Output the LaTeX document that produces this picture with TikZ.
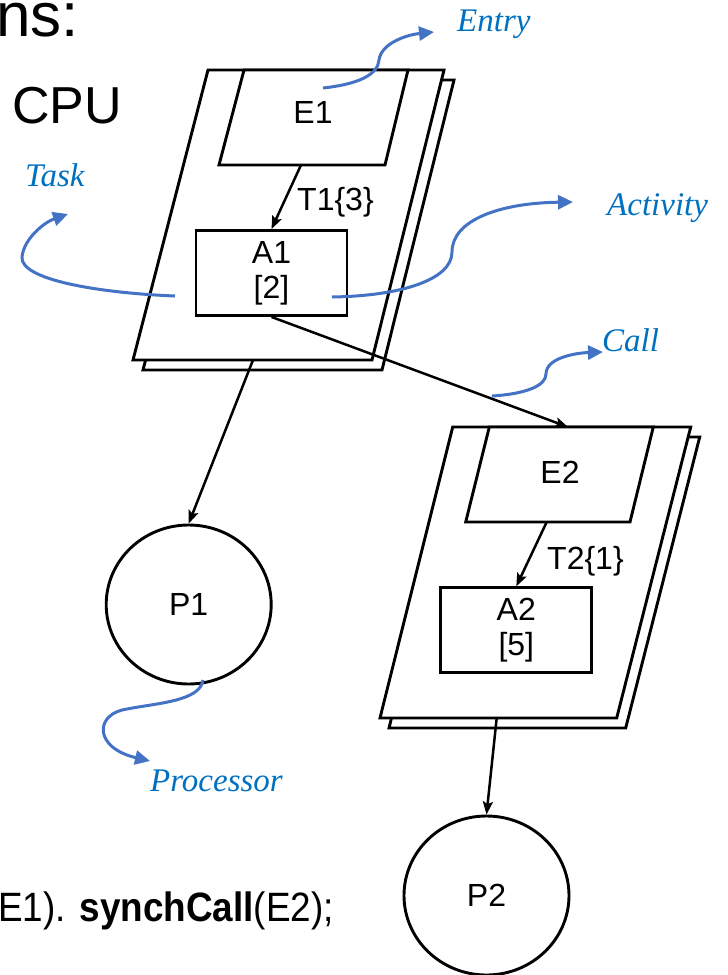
\documentclass[tikz,border=0pt]{standalone}
\usepackage{fontspec}
\setmainfont{Liberation Sans}
\newfontfamily\notefont{Liberation Serif}
\usetikzlibrary{arrows.meta,shapes.geometric}
\definecolor{noteblue}{RGB}{0,112,192}
\definecolor{curveblue}{RGB}{68,114,196}

\tikzset{
  outline/.style={line width=2.9pt, line join=miter, draw=black, fill=white},
  conn/.style={line width=2.5pt, -{Stealth[length=13pt,width=10pt,inset=2.5pt]}},
  note/.style={line width=3pt, draw=curveblue, -{Triangle[length=15pt,width=14pt]}},
  lbl/.style={font=\fontsize{33}{40}\selectfont\notefont\itshape, text=noteblue, anchor=base west, inner sep=0pt},
  txt/.style={font=\fontsize{32}{36}\selectfont, inner sep=0pt, align=center},
  actbox/.style={outline, rectangle, minimum width=151pt, minimum height=85pt, inner sep=0pt, font=\fontsize{32}{35}\selectfont, align=center},
  proc/.style={outline, ellipse, minimum width=165pt, minimum height=159pt, inner sep=0pt, font=\fontsize{32}{36}\selectfont}
}

\begin{document}
\begin{tikzpicture}[x=1pt,y=-1pt]
\useasboundingbox (0,0) rectangle (728,975);

% heading fragments
\node[anchor=base east, inner sep=0pt, font=\fontsize{62}{70}\selectfont] (head) at (79,36) {ns:};
\node[anchor=base west, inner sep=0pt, font=\fontsize{52}{60}\selectfont] (cpu) at (12,123) {CPU};
\node[anchor=base east, inner sep=0pt, font=\fontsize{41}{48}\selectfont] (code) at (334,921.7)
  {\scalebox{0.9}[1]{E1). \textbf{synchCall}(E2);}};

% task T1 (stacked sheets)
\draw[outline] (218,80) -- (454,80) -- (382,370) -- (143,370) -- cycle;
\draw[outline] (208,70) -- (444,70) -- (372,360) -- (133,360) -- cycle;
\draw[outline] (244,70) -- (408,70) -- (385,165) -- (219,165) -- cycle;
\node[txt] (e1) at (313,112) {E1};
\node[actbox] (a1) at (271.5,273) {A1\\{[2]}};

% task T2 (stacked sheets)
\draw[outline] (461.7,437) -- (699.7,437) -- (625.7,728) -- (389,728) -- cycle;
\draw[outline] (452.7,427) -- (690.7,427) -- (616.7,718) -- (380,718) -- cycle;
\draw[outline] (489.3,427) -- (653.3,427) -- (630,522) -- (465.7,522) -- cycle;
\node[txt] (e2) at (560,472) {E2};
\node[actbox] (a2) at (516.3,630.3) {A2\\{[5]}};

% processors
\node[proc] (p1) at (188.7,604.5) {P1};
\node[proc] (p2) at (486.5,895.5) {P2};

% connector end points on the sheets
\coordinate (e1s) at (301,165);
\coordinate (e2s) at (546.7,522);
\coordinate (e2top) at (568,427);
\coordinate (t1b) at (253,360);
\coordinate (t2b) at (496.7,718);

\draw[conn] (e1s) -- (a1.north);
\draw[conn] (e2s) -- (a2.north);
\draw[conn] (a1.south) -- (e2top);
\draw[conn] (t1b) -- (p1.north);
\draw[conn] (t2b) -- (p2.north);

\node[txt, anchor=base west] (t1lbl) at (297,210) {T1\{3\}};
\node[txt, anchor=base west] (t2lbl) at (547,569) {T2\{1\}};

% annotation labels
\node[lbl] (entry) at (457,31) {Entry};
\node[lbl] (task) at (25,186) {Task};
\node[lbl] (activity) at (607,215.7) {Activity};
\node[lbl] (call) at (602,351.7) {Call};
\node[lbl] (processor) at (150,791.7) {Processor};

% annotation pointers
\coordinate (entryS) at (323,88);   \coordinate (entryT) at (434,32);
\coordinate (taskS) at (175,296);   \coordinate (taskT) at (68,214);
\coordinate (actS) at (332,297);    \coordinate (actT) at (573,202);
\coordinate (callS) at (492,396);   \coordinate (callT) at (603,352);
\coordinate (procS) at (203,680);   \coordinate (procT) at (150,761);

\draw[note] (entryS) .. controls (360,84) and (378,74) .. (379,60) .. controls (381,44) and (405,35) .. (entryT);
\draw[note] (taskS) .. controls (100,293) and (20,280) .. (22,257) .. controls (24,238) and (45,222) .. (taskT);
\draw[note] (actS) .. controls (400,296) and (452,280) .. (452,252) .. controls (452,220) and (500,203) .. (actT);
\draw[note] (callS) .. controls (525,394) and (546,386) .. (546,374) .. controls (546,358) and (575,353) .. (callT);
\draw[note] (procS) .. controls (200,702) and (155,703) .. (122,710) .. controls (95,717) and (95,748) .. (procT);
\end{tikzpicture}
\end{document}
